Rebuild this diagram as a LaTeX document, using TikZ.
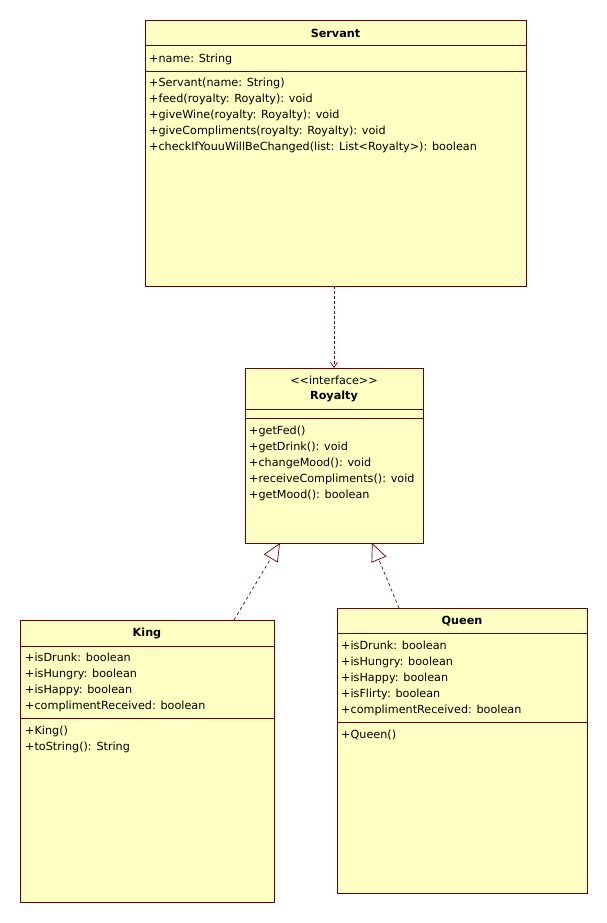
\documentclass[tikz,border=0pt]{standalone}
\usepackage{fontspec}
\setmainfont{DejaVu Sans}
\usetikzlibrary{arrows.meta}
\definecolor{umlline}{RGB}{110,0,0}
\definecolor{umlfill}{RGB}{255,255,196}
\tikzset{
  classbox/.style={draw=umlline, fill=umlfill, line width=0.9pt, rectangle, inner sep=0pt, anchor=north west},
  classname/.style={font=\fontsize{11.2}{14}\selectfont\bfseries, inner sep=0pt},
  members/.style={font=\fontsize{11.2}{16}\selectfont, inner sep=0pt, anchor=north west, align=left},
  sep/.style={draw=umlline, line width=0.9pt},
  realize/.style={draw=umlline, line width=0.7pt, dash pattern=on 3pt off 3pt, -{Triangle[open, length=18pt, width=16pt, fill=white]}},
  depend/.style={draw=umlline, line width=0.7pt, dash pattern=on 3pt off 2pt, -{Straight Barb[length=5pt, width=7pt]}}
}
\begin{document}
\begin{tikzpicture}[x=1pt, y=-1pt]
  \useasboundingbox (0,0) rectangle (607,923);

  % Servant
  \node[classbox, minimum width=381pt, minimum height=266pt] (servant) at (145,20) {};
  \node[classname] (servantname) at (335.5,33) {Servant};
  \draw[sep] (145,45) -- (526,45);
  \draw[sep] (145,71) -- (526,71);
  \node[members] (servantattr) at (149,50) {\rule{0pt}{12pt}+name: String};
  \node[members] (servantops) at (149,74) {\rule{0pt}{12pt}+Servant(name: String)\\
    +feed(royalty: Royalty): void\\
    +giveWine(royalty: Royalty): void\\
    +giveCompliments(royalty: Royalty): void\\
    +checkIfYouuWillBeChanged(list: List{<}Royalty{>}): boolean};

  % Royalty
  \node[classbox, minimum width=178pt, minimum height=175pt] (royalty) at (245,368) {};
  \node[inner sep=0pt, font=\fontsize{11.2}{14}\selectfont] (royaltystereo) at (334,380) {{<}{<}interface{>}{>}};
  \node[classname] (royaltyname) at (334,396) {Royalty};
  \draw[sep] (245,409) -- (423,409);
  \draw[sep] (245,418) -- (423,418);
  \node[members] (royaltyops) at (249,422) {\rule{0pt}{12pt}+getFed()\\
    +getDrink(): void\\
    +changeMood(): void\\
    +receiveCompliments(): void\\
    +getMood(): boolean};

  % King
  \node[classbox, minimum width=254pt, minimum height=282pt] (king) at (20,620) {};
  \node[classname] (kingname) at (147,633) {King};
  \draw[sep] (20,646) -- (274,646);
  \draw[sep] (20,718) -- (274,718);
  \node[members] (kingattr) at (25,649) {\rule{0pt}{12pt}+isDrunk: boolean\\
    +isHungry: boolean\\
    +isHappy: boolean\\
    +complimentReceived: boolean};
  \node[members] (kingops) at (25,722) {\rule{0pt}{12pt}+King()\\
    +toString(): String};

  % Queen
  \node[classbox, minimum width=250pt, minimum height=285pt] (queen) at (337,608) {};
  \node[classname] (queenname) at (462,621) {Queen};
  \draw[sep] (337,633) -- (587,633);
  \draw[sep] (337,722) -- (587,722);
  \node[members] (queenattr) at (341,637) {\rule{0pt}{12pt}+isDrunk: boolean\\
    +isHungry: boolean\\
    +isHappy: boolean\\
    +isFlirty: boolean\\
    +complimentReceived: boolean};
  \node[members] (queenops) at (341,726) {\rule{0pt}{12pt}+Queen()};

  % connectors
  \coordinate (servantout) at (334,286);
  \coordinate (royaltyin) at (334,368);
  \coordinate (kingout) at (234,620);
  \coordinate (royaltyleft) at (280,543);
  \coordinate (queenout) at (399,608);
  \coordinate (royaltyright) at (372,543);
  \draw[depend] (servantout) -- (royaltyin);
  \draw[realize] (kingout) -- (royaltyleft);
  \draw[realize] (queenout) -- (royaltyright);
\end{tikzpicture}
\end{document}
